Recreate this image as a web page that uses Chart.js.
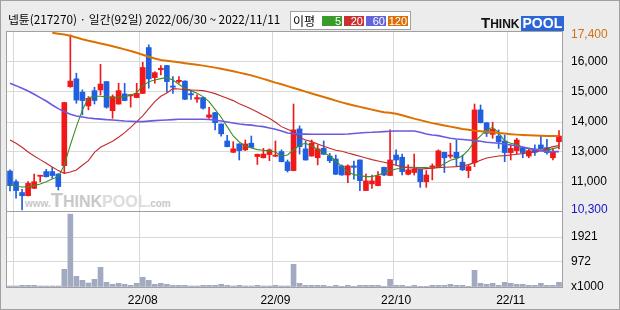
<!DOCTYPE html>
<html><head><meta charset="utf-8">
<script src="https://cdn.jsdelivr.net/npm/chart.js"></script>
<style>
html,body{margin:0;padding:0;}
body{width:620px;height:310px;background:#ececec;position:relative;overflow:hidden;font-family:"Noto Sans CJK KR","Noto Sans",sans-serif;}
#border{position:absolute;left:0;top:0;width:620px;height:310px;box-sizing:border-box;border:1px solid #a0a0a0;pointer-events:none;}
#plotbg{position:absolute;left:7px;top:32px;width:555px;height:255px;background:#fff;}
#wm{position:absolute;left:25px;top:190px;white-space:nowrap;font-family:"Liberation Sans",Arial,sans-serif;font-weight:bold;color:#c8c8c8;line-height:20px;}
#wm .s{font-size:10px;}
#wm .t{font-size:20px;}
#wm .h{font-size:16px;}
#wm .p{font-size:16px;color:#dcdcdc;}
#c{position:absolute;left:0;top:0;}
#title{position:absolute;left:8px;top:10px;font-size:11.8px;color:#000;white-space:nowrap;line-height:18px;}
#legend{position:absolute;left:290px;top:11px;width:121px;height:19px;box-sizing:border-box;border:1px solid #a0a0a0;background:#fff;font-size:12px;}
#legend .lt{position:absolute;left:2px;top:0px;line-height:17px;color:#000;}
#legend .b{position:absolute;top:4px;width:20px;height:10px;color:#fff;font-family:"Liberation Sans",Arial,sans-serif;font-size:11px;line-height:10px;text-align:right;box-sizing:border-box;padding-right:1px;}
#logo{position:absolute;left:481px;top:13px;height:16px;white-space:nowrap;font-family:"Liberation Sans",Arial,sans-serif;font-weight:900;}
#logo .k{color:#111;font-size:12px;vertical-align:bottom;}
#logo .k .big{font-size:15px;}
#logo .pool{display:inline-block;background:#2b66d6;color:#fff;font-size:14px;line-height:15px;padding:0 2px;margin-left:1px;vertical-align:bottom;}
</style>
</head><body>
<div id="plotbg"></div>
<div id="wm"><span class="s">www.</span><span class="t">T</span><span class="h">HINK</span><span class="p">POOL</span><span class="s">.com</span></div>
<canvas id="c" width="620" height="310" style="width:620px;height:310px"></canvas>
<div id="title">넵튠(217270) · 일간(92일) 2022/06/30 ~ 2022/11/11</div>
<div id="legend"><span class="lt">이평</span><span class="b" style="left:31px;background:#3a9a2a">5</span><span class="b" style="left:53px;background:#c83232">20</span><span class="b" style="left:75px;background:#6464dc">60</span><span class="b" style="left:97px;background:#dc6e0a">120</span></div>
<div id="logo"><span class="k"><span class="big">T</span>HINK</span><span class="pool">POOL</span></div>
<div id="border"></div>
<script>
// ---------- DATA ----------
const categories = ['06/30',
'07/01','07/04','07/05','07/06','07/07','07/08','07/11','07/12','07/13','07/14','07/15','07/18','07/19','07/20','07/21','07/22','07/25','07/26','07/27','07/28','07/29',
'08/01','08/02','08/03','08/04','08/05','08/08','08/09','08/10','08/11','08/12','08/16','08/17','08/18','08/19','08/22','08/23','08/24','08/25','08/26','08/29','08/30','08/31',
'09/01','09/02','09/05','09/06','09/07','09/08','09/13','09/14','09/15','09/16','09/19','09/20','09/21','09/22','09/23','09/26','09/27','09/28','09/29','09/30',
'10/04','10/05','10/06','10/07','10/11','10/12','10/13','10/14','10/17','10/18','10/19','10/20','10/21','10/24','10/25','10/26','10/27','10/28','10/31',
'11/01','11/02','11/03','11/04','11/07','11/08','11/09','11/10','11/11'];

const openP  = [11880,11450,11010,10880,11180,11670,11860,11860,11760,12100,15300,15620,15080,14520,15140,15170,15510,14330,14600,15010,14930,14860,15030,16890,15670,15990,16160,15330,15510,15530,15020,14800,14860,14060,14250,13790,13100,12640,12980,12740,13010,12470,12420,12550,12480,12670,12250,11900,13590,12780,12490,12420,12800,12490,12370,12090,11720,12090,12330,11090,11360,11290,12030,11700,12530,12440,11750,11820,11950,11450,12030,12060,12640,12480,12640,12240,11900,12220,14360,13840,13370,13300,13100,12630,12710,12830,12490,12780,12940,12830,12420,13070];
const highP  = [11930,11520,11140,11450,11760,11710,11950,12030,11770,14670,17400,15850,15170,14900,15280,16210,15520,14970,15440,15440,14980,15440,16290,17000,15910,16160,16170,15710,15710,15540,15130,14970,14870,14470,14260,13800,13330,13070,12990,13140,13300,12570,12800,12780,13100,12740,12330,14600,13710,13100,13140,12940,13100,12600,12530,12130,12130,12290,12340,11760,11720,11860,12040,13550,12740,12570,12130,12570,11960,11900,12170,12740,12650,13010,13140,12530,12130,14600,14560,13850,13860,13550,13340,12940,13210,12840,12800,12940,13300,13170,12800,13520];
const lowP   = [11070,10780,10300,10870,11170,11450,11640,11590,11110,11790,15280,14630,14160,14360,14600,14970,14430,14020,14590,14730,14470,14850,15020,15240,15440,15780,15080,15030,15440,14780,14790,14660,14390,14020,13550,13300,12860,12630,12330,12710,12830,12150,12410,12300,12470,12250,11840,11890,12570,12320,12480,12130,12550,12220,11740,11710,11410,11550,11090,11080,11180,11280,11690,11690,12130,11720,11720,11720,11220,11220,11520,12050,11820,12400,12060,11900,11610,12060,13830,13280,13210,12800,12260,12330,12570,12420,12420,12510,12770,12570,12330,12780];
const closeP = [11290,11090,10880,11380,11450,11710,11650,11700,11250,14660,15530,14760,14740,14830,14740,15410,14470,14900,15140,14740,14980,15030,16080,15620,15870,16050,15510,15280,15560,14790,14970,14860,14430,14160,13840,13390,12870,12780,12710,12980,12840,12560,12570,12740,12530,12260,11900,13550,12870,12330,13010,12780,12560,12300,11750,11720,12090,12030,11490,11480,11480,11680,11720,12330,12330,11860,11930,11950,11450,11720,12090,12700,12420,12530,12420,11930,12060,14360,13840,13410,13570,13070,12630,12800,13140,12630,12710,12640,12780,12630,12640,13300];

const ma5   = [11343,11262,11235,11249,11289,11357,11451,11560,11654,12127,12939,13682,14358,14858,14913,14913,14885,14845,14885,14899,14953,15061,15332,15507,15575,15629,15670,15575,15399,15223,15142,15034,14899,14696,14385,14061,13682,13304,13060,12898,12817,12749,12722,12695,12655,12492,12533,12736,12939,13006,12898,12763,12628,12492,12290,12060,11857,11735,11695,11654,11654,11722,11816,11898,11965,12006,12033,12033,12019,12019,11992,12046,12181,12317,12384,12492,12736,13074,13304,13547,13655,13439,13101,13006,12952,12844,12790,12749,12722,12709,12790,12844];
const ma20  = [13141,13006,12844,12655,12492,12344,12195,12046,11898,11789,11843,11925,12114,12303,12641,12844,12966,13087,13250,13439,13655,13885,14115,14412,14696,14913,15048,15223,15210,15183,15169,15156,15142,15088,15021,14926,14831,14737,14615,14507,14399,14277,14142,14020,13858,13682,13574,13466,13236,13141,13074,12979,12885,12803,12722,12682,12614,12547,12479,12411,12344,12290,12236,12181,12114,12060,12019,11992,11965,11979,11992,12019,12033,12046,12060,12087,12141,12222,12317,12411,12452,12492,12506,12533,12560,12587,12628,12655,12709,12790,12871,12912];
const ma60  = [15440,15345,15237,15129,14994,14858,14723,14561,14412,14291,14182,14115,14074,14034,14007,13986,13966,13953,13932,13912,13899,13885,13885,13905,13926,13939,13953,13966,13980,13980,13980,13980,13980,13973,13946,13912,13871,13831,13790,13763,13743,13709,13682,13628,13574,13506,13425,13398,13385,13378,13371,13371,13371,13371,13371,13371,13385,13405,13425,13446,13452,13466,13479,13493,13506,13506,13506,13506,13452,13385,13344,13317,13263,13209,13182,13162,13141,13114,13087,13047,13026,13006,12979,12939,12898,12857,12803,12749,12709,12668,12668,12668];
const ma120 = [null,null,null,null,null,null,null,17489,17453,17415,17366,17296,17226,17166,17112,17057,16999,16941,16880,16815,16751,16676,16597,16516,16444,16383,16352,16323,16292,16256,16221,16191,16156,16116,16075,16032,15981,15926,15872,15818,15760,15690,15618,15543,15467,15399,15325,15250,15176,15102,15029,14957,14885,14810,14737,14665,14602,14541,14484,14426,14372,14318,14270,14243,14203,14142,14074,14007,13946,13885,13824,13777,13730,13682,13635,13588,13554,13520,13498,13474,13450,13425,13401,13377,13358,13344,13331,13321,13312,13304,13304,13304];

const volume = [39,39,64,64,64,39,39,39,39,682,2806,412,257,154,296,759,180,103,142,103,64,142,373,257,103,142,103,64,64,64,39,39,64,64,64,103,64,39,64,39,39,64,39,39,64,39,39,875,142,64,64,64,64,26,64,26,64,26,64,64,64,64,26,296,64,64,26,64,26,26,64,64,64,103,64,64,26,644,142,103,142,64,180,142,103,103,64,64,142,64,64,180];

const periodHigh = 17400, periodLow = 10300;
const priceMaxLabel = '17,400', priceMinLabel = '10,300';
const priceTickLabels = ['11,000','13,000','14,000','15,000','16,000'];
const volumeTickValues = [972, 1921];
const volumeTickLabels = ['972', '1921'];
const volumeUnitLabel = 'x1000';
const xTickMonths = ['08','09','10','11'];
const xTickLabels = ['22/08','22/09','22/10','22/11'];

// ---------- STYLE / LAYOUT ----------
const PRICE_MIN = 10220, PRICE_MAX = 17520, VOL_MAX = 2890;
const UP = '#f01818', DOWN = '#1f5fe0';
const GRID = '#d9d9d9', FRAME = '#a0a0a0';
const TRANSPARENT = 'rgba(0,0,0,0)';

const candleColors = closeP.map((c, i) => c >= openP[i] ? UP : DOWN);
const monthStart = categories.map((c, i) => i > 0 && c.slice(0,2) !== categories[i-1].slice(0,2));

Chart.defaults.font.family = "'Liberation Sans', Arial, sans-serif";
Chart.defaults.font.size = 12;
Chart.defaults.color = '#000';

const framePlugin = {
  id: 'frame',
  afterDraw(chart) {
    const {ctx, chartArea: a} = chart;
    const sep = chart.scales.v.top;
    ctx.save();
    ctx.strokeStyle = FRAME; ctx.lineWidth = 1;
    ctx.strokeRect(a.left - 0.5, a.top - 0.5, a.width + 1, a.height + 1);
    ctx.beginPath();
    ctx.moveTo(a.left, Math.round(sep) - 0.5);
    ctx.lineTo(a.right, Math.round(sep) - 0.5);
    ctx.stroke();
    ctx.restore();
  }
};

const lineDs = (label, data, color, w) => ({
  type: 'line', label, data, yAxisID: 'y', borderColor: color, borderWidth: w,
  pointRadius: 0, tension: 0, fill: false, order: 0, spanGaps: false
});

new Chart(document.getElementById('c'), {
  data: {
    labels: categories,
    datasets: [
      lineDs('MA120', ma120, '#dd7000', 2),
      lineDs('MA60', ma60, '#6a5ae0', 1.6),
      lineDs('MA20', ma20, '#c42a2a', 1.1),
      lineDs('MA5', ma5, '#3b8f23', 1.1),
      { type: 'bar', label: 'wick', data: categories.map((_, i) => [lowP[i], highP[i]]),
        backgroundColor: candleColors, barThickness: 1, grouped: false, yAxisID: 'y', order: 2 },
      { type: 'bar', label: 'body', data: categories.map((_, i) => [openP[i], closeP[i]]),
        backgroundColor: candleColors, barThickness: 5, minBarLength: 1, grouped: false, yAxisID: 'y', order: 1 },
      { type: 'bar', label: 'volume', data: volume, backgroundColor: '#a2aac2',
        barThickness: 5, grouped: false, yAxisID: 'v', order: 3 }
    ]
  },
  options: {
    responsive: false, animation: false, devicePixelRatio: 1,
    layout: { padding: { left: 7, top: 32, right: 0, bottom: 0 } },
    plugins: { legend: { display: false }, tooltip: { enabled: false } },
    scales: {
      x: {
        type: 'category', offset: true,
        grid: { offset: true, drawTicks: false, color: ctx => monthStart[ctx.index] ? GRID : TRANSPARENT },
        border: { display: false },
        ticks: { autoSkip: false, maxRotation: 0, minRotation: 0, padding: 6,
          callback: (v, i) => { if (!monthStart[i]) return ''; const k = xTickMonths.indexOf(categories[i].slice(0,2)); return k >= 0 ? xTickLabels[k] : ''; } },
        afterFit: s => { s.height = 23; }
      },
      y: {
        type: 'linear', position: 'right', stack: 'main', stackWeight: 180,
        min: PRICE_MIN, max: PRICE_MAX,
        afterBuildTicks: s => {
          const step = (PRICE_MAX - PRICE_MIN) / 6;
          s.ticks = [{value: periodLow}].concat([1,2,3,4,5].map(k => ({value: PRICE_MIN + k * step}))).concat([{value: periodHigh}]);
        },
        grid: { drawTicks: false, color: ctx => (ctx.index >= 1 && ctx.index <= 5) ? GRID : TRANSPARENT },
        border: { display: false },
        ticks: { autoSkip: false, padding: 9,
          color: ctx => ctx.index === 0 ? '#1414c8' : (ctx.index === 6 ? '#d2701a' : '#000'),
          callback: (v, i) => i === 0 ? priceMinLabel : (i === 6 ? priceMaxLabel : priceTickLabels[i - 1]) },
        afterFit: s => { s.width = 58; }
      },
      v: {
        type: 'linear', position: 'right', stack: 'main', stackWeight: 75,
        min: 0, max: VOL_MAX,
        afterBuildTicks: s => { s.ticks = [{value: 0}].concat(volumeTickValues.map(v => ({value: v}))); },
        grid: { drawTicks: false, color: ctx => ctx.index >= 1 ? GRID : TRANSPARENT },
        border: { display: false },
        ticks: { autoSkip: false, padding: 9,
          callback: (v, i) => i === 0 ? volumeUnitLabel : volumeTickLabels[i - 1] },
        afterFit: s => { s.width = 58; }
      }
    }
  },
  plugins: [framePlugin]
});
</script>
</body></html>
